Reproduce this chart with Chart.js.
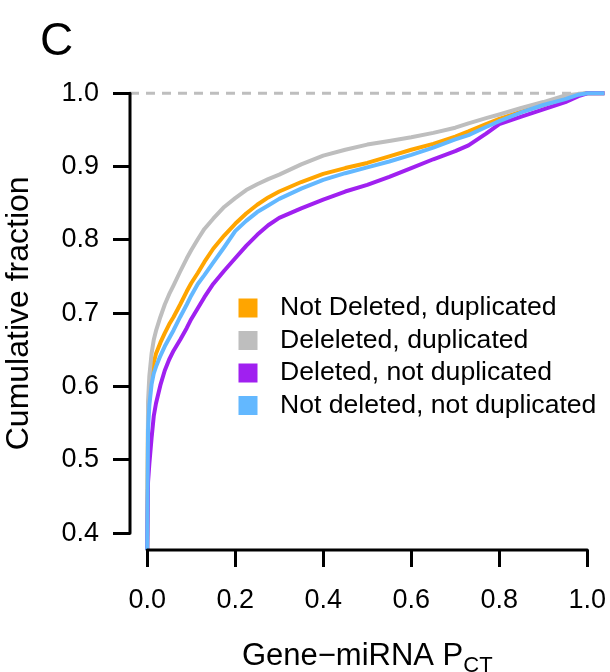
<!DOCTYPE html>
<html>
<head>
<meta charset="utf-8">
<title>Cumulative fraction of gene-miRNA PCT</title>
<script src="https://cdn.jsdelivr.net/npm/chart.js@4.4.1/dist/chart.umd.min.js"></script>
<style>
  html, body { margin: 0; padding: 0; background: #fff; }
  #wrap { width: 610px; height: 672px; }
</style>
</head>
<body>
<div id="wrap"><canvas id="cdfChart" width="610" height="672"></canvas></div>
<script>
// P_CT values where each cumulative curve is sampled
const pctGrid = [0, 0.002, 0.005, 0.01, 0.015, 0.02, 0.03, 0.04, 0.05, 0.06, 0.075, 0.09, 0.1, 0.115, 0.13, 0.15, 0.175, 0.2, 0.225, 0.25, 0.275, 0.3, 0.35, 0.4, 0.45, 0.5, 0.55, 0.6, 0.65, 0.7, 0.73, 0.77, 0.8, 0.85, 0.9, 0.95, 0.98, 1.0, 1.04];

// cumulative fraction for each gene group
const notDelDup    = [0.37, 0.56, 0.595, 0.615, 0.633, 0.645, 0.66, 0.673, 0.685, 0.695, 0.712, 0.73, 0.741, 0.755, 0.77, 0.788, 0.806, 0.822, 0.836, 0.848, 0.858, 0.866, 0.879, 0.890, 0.898, 0.905, 0.914, 0.923, 0.931, 0.941, 0.948, 0.958, 0.965, 0.975, 0.984, 0.993, 0.998, 1.0, 1.0];
const delDup       = [0.37, 0.58, 0.615, 0.645, 0.664, 0.676, 0.695, 0.712, 0.726, 0.738, 0.757, 0.775, 0.786, 0.801, 0.815, 0.829, 0.845, 0.857, 0.868, 0.876, 0.883, 0.889, 0.903, 0.915, 0.923, 0.930, 0.935, 0.940, 0.946, 0.953, 0.959, 0.966, 0.971, 0.980, 0.988, 0.997, 0.999, 1.0, 1.0];
const delNotDup    = [0.37, 0.47, 0.495, 0.53, 0.56, 0.577, 0.602, 0.622, 0.637, 0.649, 0.664, 0.680, 0.692, 0.707, 0.722, 0.740, 0.758, 0.775, 0.792, 0.807, 0.820, 0.830, 0.843, 0.855, 0.866, 0.875, 0.886, 0.898, 0.910, 0.921, 0.929, 0.945, 0.958, 0.968, 0.978, 0.988, 0.996, 1.0, 1.0];
const notDelNotDup = [0.37, 0.54, 0.575, 0.603, 0.618, 0.627, 0.642, 0.655, 0.666, 0.677, 0.695, 0.712, 0.724, 0.74, 0.752, 0.769, 0.79, 0.812, 0.826, 0.838, 0.847, 0.856, 0.870, 0.882, 0.891, 0.899, 0.907, 0.916, 0.926, 0.937, 0.943, 0.954, 0.962, 0.974, 0.984, 0.992, 0.998, 1.0, 1.0];

const groupLabels = ['Not Deleted, duplicated', 'Deleleted, duplicated', 'Deleted, not duplicated', 'Not deleted, not duplicated'];
const groupColors = ['#FFA500', '#BEBEBE', '#A020F0', '#63B8FF'];
const groupSeries = [notDelDup, delDup, delNotDup, notDelNotDup];

const xTicks = [0, 0.2, 0.4, 0.6, 0.8, 1.0];
const yTicks = [0.4, 0.5, 0.6, 0.7, 0.8, 0.9, 1.0];

const FONT = '"Liberation Sans", Arial, Helvetica, sans-serif';

function toPoints(ys) {
    return pctGrid.map((p, i) => ({ x: p, y: ys[i] }));
}

// later groups are plotted on top, like successive lines() calls
const datasets = groupSeries.map((ys, i) => ({
    label: groupLabels[i],
    data: toPoints(ys),
    borderColor: groupColors[i],
    borderWidth: 4,
    borderJoinStyle: 'round',
    pointRadius: 0,
    tension: 0,
    order: groupSeries.length - i
}));

// reference line at a cumulative fraction of 1
datasets.push({
    label: 'ref',
    data: [{ x: -0.039, y: 1 }, { x: 1.039, y: 1 }],
    borderColor: '#BEBEBE',
    borderWidth: 3,
    borderDash: [9, 7],
    pointRadius: 0,
    order: 10
});

// axis lines, legend and titles drawn by hand
const decorations = {
    id: 'decorations',
    afterDraw(chart) {
        const ctx = chart.ctx;
        const area = chart.chartArea;
        const xs = chart.scales.x, ys = chart.scales.y;
        ctx.save();

        // axis lines only run between the outer ticks
        ctx.strokeStyle = '#000';
        ctx.lineWidth = 3;
        ctx.lineCap = 'round';
        ctx.beginPath();
        ctx.moveTo(xs.getPixelForValue(xTicks[0]), area.bottom);
        ctx.lineTo(xs.getPixelForValue(xTicks[xTicks.length - 1]), area.bottom);
        ctx.moveTo(area.left, ys.getPixelForValue(yTicks[0]));
        ctx.lineTo(area.left, ys.getPixelForValue(yTicks[yTicks.length - 1]));
        ctx.stroke();

        // legend
        ctx.font = '26.6px ' + FONT;
        ctx.textBaseline = 'middle';
        ctx.textAlign = 'left';
        groupLabels.forEach((label, i) => {
            const cy = 308 + i * 32.5;
            ctx.fillStyle = groupColors[i];
            ctx.fillRect(238.5, cy - 9.5, 19, 19);
            ctx.fillStyle = '#000';
            ctx.fillText(label, 280, cy);
        });

        // panel letter
        ctx.font = '46px ' + FONT;
        ctx.textBaseline = 'alphabetic';
        ctx.fillText('C', 40, 55);

        // x title with subscript
        const main = 'Gene\u2212miRNA P';
        const sub = 'CT';
        ctx.font = '31px ' + FONT;
        const wMain = ctx.measureText(main).width;
        ctx.font = '22px ' + FONT;
        const wSub = ctx.measureText(sub).width;
        const cx = (area.left + area.right) / 2;
        const x0 = cx - (wMain + wSub) / 2;
        ctx.font = '31px ' + FONT;
        ctx.fillText(main, x0, 665);
        ctx.font = '22px ' + FONT;
        ctx.fillText(sub, x0 + wMain, 672);

        // y title
        ctx.translate(28, (area.top + area.bottom) / 2);
        ctx.rotate(-Math.PI / 2);
        ctx.font = '32px ' + FONT;
        ctx.textAlign = 'center';
        ctx.fillText('Cumulative fraction', 0, 0);

        ctx.restore();
    }
};

const tickFont = { family: FONT, size: 27 };

new Chart(document.getElementById('cdfChart').getContext('2d'), {
    type: 'line',
    data: { datasets: datasets },
    options: {
        responsive: false,
        animation: false,
        layout: { padding: { top: 76.6, right: 5.5, left: 0, bottom: 0 } },
        plugins: {
            legend: { display: false },
            tooltip: { enabled: false }
        },
        scales: {
            x: {
                type: 'linear',
                min: -0.039,
                max: 1.039,
                afterBuildTicks: s => { s.ticks = xTicks.map(v => ({ value: v })); },
                afterFit: s => { s.height = 122; s.paddingLeft = 0; s.paddingRight = 0; },
                border: { display: false },
                grid: { drawOnChartArea: false, drawTicks: true, tickLength: 17, tickWidth: 3, tickColor: '#000' },
                ticks: { color: '#000', font: tickFont, padding: 17, maxRotation: 0, autoSkip: false, callback: v => v.toFixed(1) }
            },
            y: {
                type: 'linear',
                min: 0.3773,
                max: 1.0227,
                afterBuildTicks: s => { s.ticks = yTicks.map(v => ({ value: v })); },
                afterFit: s => { s.width = 130; s.paddingTop = 0; s.paddingBottom = 0; },
                border: { display: false },
                grid: { drawOnChartArea: false, drawTicks: true, tickLength: 17, tickWidth: 3, tickColor: '#000' },
                ticks: { color: '#000', font: tickFont, padding: 14, autoSkip: false, callback: v => v.toFixed(1) }
            }
        }
    },
    plugins: [decorations]
});
</script>
</body>
</html>
